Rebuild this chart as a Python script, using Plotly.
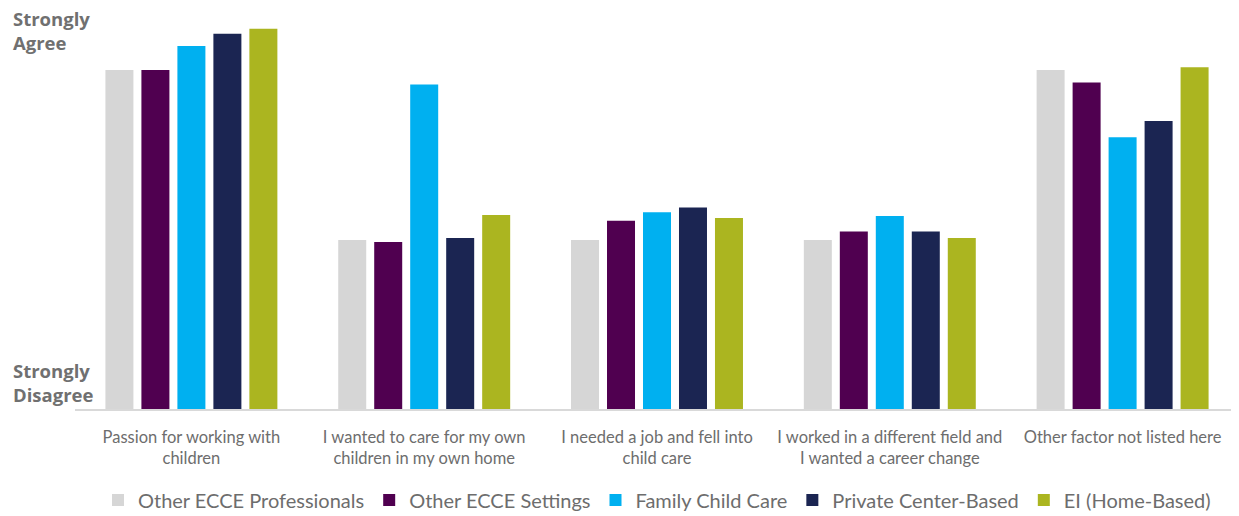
import plotly.graph_objects as go

categories = [
    "Passion for working with<br>children",
    "I wanted to care for my own<br>children in my own home",
    "I needed a job and fell into<br>child care",
    "I worked in a different field and<br>I wanted a career change",
    "Other factor not listed here",
]

series_names = [
    "Other ECCE Professionals",
    "Other ECCE Settings",
    "Family Child Care",
    "Private Center-Based",
    "EI (Home-Based)",
]

other_ecce_professionals = [4.53, 2.76, 2.76, 2.76, 4.53]
other_ecce_settings = [4.53, 2.74, 2.96, 2.85, 4.40]
family_child_care = [4.78, 4.38, 3.05, 3.01, 3.83]
private_center_based = [4.91, 2.78, 3.10, 2.85, 4.00]
ei_home_based = [4.96, 3.02, 2.99, 2.78, 4.56]

series_values = [
    other_ecce_professionals,
    other_ecce_settings,
    family_child_care,
    private_center_based,
    ei_home_based,
]

colors = ["#d6d6d6", "#500050", "#00b0f0", "#1b2552", "#abb520"]

fig = go.Figure()
for name, vals, col in zip(series_names, series_values, colors):
    fig.add_trace(go.Bar(
        x=categories, y=vals, name=name,
        marker=dict(color=col, line=dict(width=0)),
    ))

# page body has an 8px margin, so the figure is sized to fit the window
fig.update_layout(
    width=1231, height=508,
    margin=dict(l=67, r=0, t=17, b=107),
    paper_bgcolor="white", plot_bgcolor="white",
    barmode="group", bargap=0.227, bargroupgap=0.222,
    font=dict(family="Lato", color="#6d6d6d"),
    showlegend=True,
    legend=dict(
        orientation="h", x=0.5, xanchor="center",
        yref="container", y=0.0315, yanchor="middle",
        font=dict(family="Lato", size=20, color="#6d6d6d"),
        itemwidth=30, tracegroupgap=0,
    ),
    xaxis=dict(
        showline=True, linecolor="#d9d9d9", linewidth=2,
        showgrid=False, ticks="", tickfont=dict(size=16.5, color="#6d6d6d"),
        ticklabelstandoff=12,
    ),
    yaxis=dict(
        range=[1, 5], showgrid=False, zeroline=False,
        showticklabels=False, showline=False,
    ),
)

for text, ypx in [("Strongly<br>Agree", 30), ("Strongly<br>Disagree", 382)]:
    fig.add_annotation(
        text="<b>" + text + "</b>", xref="paper", yref="paper",
        x=-64 / 1164, y=(409 - ypx) / 384,
        xanchor="left", yanchor="middle", align="left", showarrow=False,
        font=dict(family="Open Sans", size=18.5, color="#707070"),
    )

fig.write_html("out.html")
